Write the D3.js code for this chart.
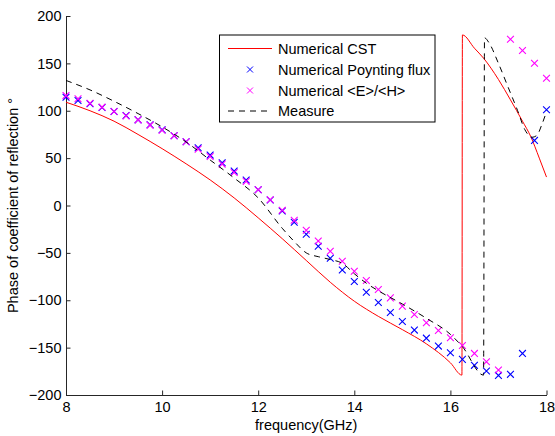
<!DOCTYPE html>
<html>
<head>
<meta charset="utf-8">
<script src="https://cdn.jsdelivr.net/npm/d3@7"></script>
<style>
  html, body { margin: 0; padding: 0; background: #fff; }
  svg { display: block; font-family: "Liberation Sans", Arial, Helvetica, sans-serif; }
</style>
</head>
<body>
<svg id="chart" width="555" height="436"></svg>
<script>
// ---- data ----
const xTicks = [8, 10, 12, 14, 16, 18];
const yTicks = [-200, -150, -100, -50, 0, 50, 100, 150, 200];

const cstFreq = [8, 8.5, 9, 9.5, 10, 10.5, 11, 11.5, 12, 12.5, 13, 13.5, 14, 14.5, 15, 15.5, 16, 16.24,
                 16.25, 16.5, 16.69, 17, 17.25, 17.5, 17.67, 17.85, 18];
const cstPhase = [109, 100, 89, 75, 60, 44, 27, 8, -13, -35, -58, -81, -101, -117, -131, -146, -166, -179,
                  180, 166, 155.5, 133, 111.5, 89, 73, 50, 30];

const markerFreq = [8, 8.25, 8.5, 8.75, 9, 9.25, 9.5, 9.75, 10, 10.25, 10.5, 10.75, 11, 11.25, 11.5, 11.75,
                    12, 12.25, 12.5, 12.75, 13, 13.25, 13.5, 13.75, 14, 14.25, 14.5, 14.75, 15, 15.25, 15.5,
                    15.75, 16, 16.25, 16.5, 16.75, 17, 17.25, 17.5, 17.75, 18];
const poyntingPhase = [114.3, 110.8, 107.3, 103.4, 99.2, 95, 90.4, 85.2, 79.9, 73.6, 67.3, 60.9, 53.2, 45.1,
                       36.3, 26.9, 16.7, 5.8, -5.8, -17.7, -30.4, -43, -55.7, -68, -80.2, -91.5, -102.4,
                       -112.9, -122.4, -131.5, -140, -148.4, -155.4, -162.4, -168.7, -174.7, -179.3, -178.2,
                       -156.1, 68.7, 101];
const ehPhase = [116, 112.6, 108, 103.8, 99.2, 94.6, 90.4, 84.8, 79.5, 73.6, 67.3, 59.5, 51.8, 43.7, 34.9,
                 25.5, 16.7, 6.1, -5.1, -15.6, -26.2, -37.4, -48.3, -58.8, -69.4, -79.2, -88.7, -97.5,
                 -106.2, -115, -123.8, -131.9, -139.6, -147.7, -156.1, -164.9, -173.7, 175.4, 163.5, 150.1,
                 134.3];

const measFreq = [8, 8.5, 9, 9.5, 10, 10.5, 11, 11.5, 12, 12.5, 12.75, 13, 13.25, 13.5, 13.75, 14, 14.25,
                  14.5, 15, 15.5, 16, 16.25, 16.69, 16.71, 16.8, 17, 17.2, 17.4, 17.55, 17.7, 17.8, 17.9, 18];
const measPhase = [132, 122, 110, 97, 83, 67, 48, 29, 8, -24, -38, -50, -54, -57, -61, -72, -82,
                   -90, -104, -119, -136, -149, -179, 177, 172, 150, 125, 100, 80, 72, 74, 85, 99];

const legendLabels = ["Numerical CST", "Numerical Poynting flux", "Numerical <E>/<H>", "Measure"];

// ---- chart ----
const FONT = '"Liberation Sans", Arial, Helvetica, sans-serif';
const svg = d3.select("#chart");
const x = d3.scaleLinear().domain([8, 18]).range([66, 546.5]);
const y = d3.scaleLinear().domain([-200, 200]).range([395, 16]);

const axisColor = "#262626";

const gx = svg.append("g").attr("transform", "translate(0,395)")
  .call(d3.axisBottom(x).tickValues(xTicks).tickFormat(d3.format("d")).tickSizeInner(-4.5).tickSizeOuter(0).tickPadding(6.5));
const gy = svg.append("g").attr("transform", "translate(66,0)")
  .call(d3.axisLeft(y).tickValues(yTicks).tickFormat(d3.format("d")).tickSizeInner(-4.5).tickSizeOuter(0).tickPadding(4.5));
[gx, gy].forEach(g => {
  g.select(".domain").attr("stroke", axisColor);
  g.selectAll(".tick line").attr("stroke", axisColor);
  g.selectAll(".tick text").attr("fill", "#000").style("font-size", "14.5px").style("font-family", FONT);
});

// CST line
const line = d3.line().x(d => x(d[0])).y(d => y(d[1])).curve(d3.curveMonotoneX);
svg.append("path")
  .datum(cstFreq.map((f, i) => [f, cstPhase[i]]))
  .attr("fill", "none").attr("stroke", "#ff0000").attr("stroke-width", 1)
  .attr("d", line);

// markers
const xMark = s => `M${-s},${-s}L${s},${s}M${-s},${s}L${s},${-s}`;
function drawMarkers(vals, color) {
  svg.append("g").selectAll("path")
    .data(markerFreq.map((f, i) => [f, vals[i]]))
    .join("path")
    .attr("transform", d => `translate(${x(d[0])},${y(d[1])})`)
    .attr("d", xMark(3.4))
    .attr("stroke", color).attr("stroke-width", 1.1).attr("fill", "none");
}
drawMarkers(poyntingPhase, "#0000ff");
drawMarkers(ehPhase, "#ff00ff");

// measure
svg.append("path")
  .datum(measFreq.map((f, i) => [f, measPhase[i]]))
  .attr("fill", "none").attr("stroke", "#000").attr("stroke-width", 1)
  .attr("stroke-dasharray", "6,5")
  .attr("d", line);

// axis titles
svg.append("text")
  .attr("x", (66 + 546.5) / 2).attr("y", 430)
  .attr("text-anchor", "middle").style("font-size", "14.5px")
  .text("frequency(GHz)");
svg.append("text")
  .attr("transform", `translate(18,${(16 + 395) / 2}) rotate(-90)`)
  .attr("text-anchor", "middle").style("font-size", "14.5px")
  .text("Phase of coefficient of reflection °");

// legend
const lg = svg.append("g");
lg.append("rect").attr("x", 219.5).attr("y", 35).attr("width", 215.5).attr("height", 87)
  .attr("fill", "#fff").attr("stroke", "#000").attr("stroke-width", 1);
const rowY = [48.5, 69.5, 90.5, 111];
legendLabels.forEach((lab, i) => {
  const ry = rowY[i];
  if (i === 0) {
    lg.append("line").attr("x1", 228).attr("x2", 272).attr("y1", ry).attr("y2", ry)
      .attr("stroke", "#ff0000").attr("stroke-width", 1);
  } else if (i === 3) {
    lg.append("line").attr("x1", 228).attr("x2", 272).attr("y1", ry).attr("y2", ry)
      .attr("stroke", "#000").attr("stroke-width", 1).attr("stroke-dasharray", "6,5");
  } else {
    lg.append("path").attr("transform", `translate(250,${ry})`).attr("d", xMark(3))
      .attr("stroke", i === 1 ? "#0000ff" : "#ff00ff").attr("stroke-width", 1).attr("fill", "none");
  }
  lg.append("text").attr("x", 278).attr("y", ry).attr("dy", "0.35em")
    .style("font-size", "14.5px").text(lab);
});
</script>
</body>
</html>
